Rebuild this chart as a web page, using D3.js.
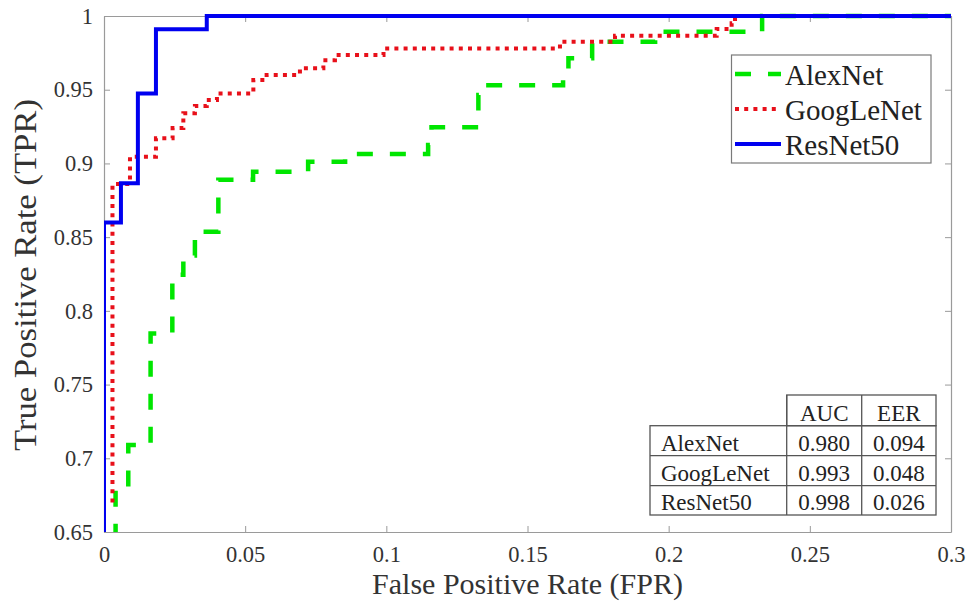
<!DOCTYPE html>
<html>
<head>
<meta charset="utf-8">
<script src="https://cdn.jsdelivr.net/npm/d3@7/dist/d3.min.js"></script>
<style>
  body { margin: 0; background: #fff; }
</style>
</head>
<body>
<div id="roc-chart"></div>
<script>
// ROC points (step after each point)
var modelNames = ["AlexNet", "GoogLeNet", "ResNet50"];

var alexFPR = [0.0041, 0.0041, 0.0086, 0.0165, 0.0242, 0.0281, 0.0322, 0.0405, 0.0528, 0.0723, 0.0854, 0.1148, 0.116, 0.1326, 0.135, 0.1626, 0.1645, 0.1729, 0.1952, 0.2331, 0.3];
var alexTPR = [0.6, 0.6784, 0.709, 0.7847, 0.8245, 0.8375, 0.8537, 0.889, 0.8944, 0.9012, 0.9064, 0.9125, 0.9245, 0.9464, 0.953, 0.959, 0.9713, 0.9826, 0.9894, 1, 1];

var googFPR = [0.003, 0.003, 0.0092, 0.0184, 0.0243, 0.0281, 0.0322, 0.0364, 0.040, 0.0529, 0.0576, 0.0694, 0.0777, 0.0818, 0.099, 0.1615, 0.181, 0.217, 0.2223, 0.2235, 0.3];
var googTPR = [0.67, 0.886, 0.9045, 0.917, 0.924, 0.934, 0.939, 0.943, 0.9475, 0.9566, 0.960, 0.9645, 0.970, 0.9735, 0.978, 0.9826, 0.9866, 0.9912, 0.995, 1, 1];

var resFPR = [0, 0, 0.006, 0.012, 0.0184, 0.0364, 0.3];
var resTPR = [0.6, 0.86, 0.8865, 0.9475, 0.991, 1, 1];

var xTicks = [0, 0.05, 0.1, 0.15, 0.2, 0.25, 0.3];
var yTicks = [0.65, 0.7, 0.75, 0.8, 0.85, 0.9, 0.95, 1];

var tableHeader = ["AUC", "EER"];
var aucValues = ["0.980", "0.993", "0.998"];
var eerValues = ["0.094", "0.048", "0.026"];

var width = 971, height = 608;
var plot = {left: 104, right: 951, top: 16, bottom: 532};
var serif = "Liberation Serif";

var styles = [
    {color: "#00e600", width: 4.5, dash: "16,17"},
    {color: "#e8101a", width: 4, dash: "4,5.2"},
    {color: "#0000f0", width: 4, dash: null}
];
var seriesData = [
    d3.zip(alexFPR, alexTPR),
    d3.zip(googFPR, googTPR),
    d3.zip(resFPR, resTPR)
];

var x = d3.scaleLinear().domain([0, 0.3]).range([plot.left, plot.right]);
var y = d3.scaleLinear().domain([0.65, 1]).range([plot.bottom, plot.top]);

var svg = d3.select("#roc-chart").append("svg")
    .attr("width", width)
    .attr("height", height)
    .attr("font-family", serif);

// axes (inward ticks, box on)
function styleAxis(g){
    g.attr("font-family", serif).attr("font-size", 22.5);
    g.select(".domain").attr("stroke", "#9a9a9a").attr("stroke-width", 1.2);
    g.selectAll(".tick line").attr("stroke", "#9a9a9a");
    g.selectAll(".tick text").attr("fill", "#333");
}
svg.append("g")
    .attr("transform", "translate(0," + plot.bottom + ")")
    .call(d3.axisBottom(x).tickValues(xTicks).tickSizeInner(-6).tickSizeOuter(0).tickPadding(14.5)
        .tickFormat(function(d){ return d; }))
    .call(styleAxis);
svg.append("g")
    .attr("transform", "translate(0," + plot.top + ")")
    .call(d3.axisTop(x).tickValues(xTicks).tickSizeInner(-6).tickSizeOuter(0).tickFormat(""))
    .call(styleAxis);
svg.append("g")
    .attr("transform", "translate(" + plot.left + ",0)")
    .call(d3.axisLeft(y).tickValues(yTicks).tickSizeInner(-6).tickSizeOuter(0).tickPadding(11)
        .tickFormat(function(d){ return d; }))
    .call(styleAxis);
svg.append("g")
    .attr("transform", "translate(" + plot.right + ",0)")
    .call(d3.axisRight(y).tickValues(yTicks).tickSizeInner(-6).tickSizeOuter(0).tickFormat(""))
    .call(styleAxis);

// axis labels
svg.append("text")
    .attr("x", (plot.left + plot.right) / 2)
    .attr("y", 594)
    .attr("text-anchor", "middle")
    .attr("fill", "#333")
    .attr("font-size", 30)
    .text("False Positive Rate (FPR)");
svg.append("text")
    .attr("transform", "translate(36," + ((plot.top + plot.bottom) / 2 + 1) + ") rotate(-90)")
    .attr("text-anchor", "middle")
    .attr("fill", "#333")
    .attr("font-size", 31)
    .attr("textLength", 352)
    .attr("lengthAdjust", "spacingAndGlyphs")
    .text("True Positive Rate (TPR)");

// curves
svg.append("clipPath").attr("id", "plot-clip")
    .append("rect")
    .attr("x", plot.left).attr("y", plot.top - 3)
    .attr("width", plot.right - plot.left + 3).attr("height", plot.bottom - plot.top + 3);

var line = d3.line()
    .x(function(d){ return x(d[0]); })
    .y(function(d){ return y(d[1]); })
    .curve(d3.curveStepAfter);

svg.append("g").attr("clip-path", "url(#plot-clip)")
    .selectAll("path")
    .data(seriesData)
    .enter().append("path")
    .attr("d", line)
    .attr("fill", "none")
    .attr("stroke", function(d, i){ return styles[i].color; })
    .attr("stroke-width", function(d, i){ return styles[i].width; })
    .attr("stroke-dasharray", function(d, i){ return styles[i].dash; });

// legend
var legend = svg.append("g");
legend.append("rect")
    .attr("x", 731.5).attr("y", 55)
    .attr("width", 199.5).attr("height", 108)
    .attr("fill", "#fff")
    .attr("stroke", "#7a7a7a")
    .attr("stroke-width", 1.2);
var items = legend.selectAll(".item")
    .data(modelNames)
    .enter().append("g")
    .attr("class", "item")
    .attr("transform", function(d, i){ return "translate(0," + (74 + i * 35) + ")"; });
items.append("line")
    .attr("x1", 735).attr("x2", 781)
    .attr("stroke", function(d, i){ return styles[i].color; })
    .attr("stroke-width", function(d, i){ return styles[i].width; })
    .attr("stroke-dasharray", function(d, i){ return styles[i].dash; });
items.append("text")
    .attr("x", 785)
    .attr("y", 11)
    .attr("fill", "#222")
    .attr("font-size", 29)
    .text(function(d){ return d; });

// AUC / EER table
var cols = [650, 786.7, 861.7, 936];
var rows = [395, 425.7, 455.7, 485.7, 515];
var table = svg.append("g").attr("fill", "none").attr("stroke", "#555").attr("stroke-width", 1.3);
table.append("rect").attr("x", cols[1]).attr("y", rows[0]).attr("width", cols[3] - cols[1]).attr("height", rows[1] - rows[0]);
table.append("rect").attr("x", cols[0]).attr("y", rows[1]).attr("width", cols[3] - cols[0]).attr("height", rows[4] - rows[1]);
[2, 3].forEach(function(r){
    table.append("line").attr("x1", cols[0]).attr("x2", cols[3]).attr("y1", rows[r]).attr("y2", rows[r]);
});
table.append("line").attr("x1", cols[1]).attr("x2", cols[1]).attr("y1", rows[0]).attr("y2", rows[4]);
table.append("line").attr("x1", cols[2]).attr("x2", cols[2]).attr("y1", rows[0]).attr("y2", rows[4]);

var cellText = svg.append("g").attr("fill", "#222").attr("font-size", 23);
tableHeader.forEach(function(h, j){
    cellText.append("text")
        .attr("x", (cols[j + 1] + cols[j + 2]) / 2).attr("y", rows[1] - 5)
        .attr("text-anchor", "middle").text(h);
});
modelNames.forEach(function(name, i){
    var base = rows[i + 2] - 5;
    cellText.append("text").attr("x", cols[0] + 11).attr("y", base).text(name);
    cellText.append("text").attr("x", (cols[1] + cols[2]) / 2).attr("y", base)
        .attr("text-anchor", "middle").text(aucValues[i]);
    cellText.append("text").attr("x", (cols[2] + cols[3]) / 2).attr("y", base)
        .attr("text-anchor", "middle").text(eerValues[i]);
});
</script>
</body>
</html>
